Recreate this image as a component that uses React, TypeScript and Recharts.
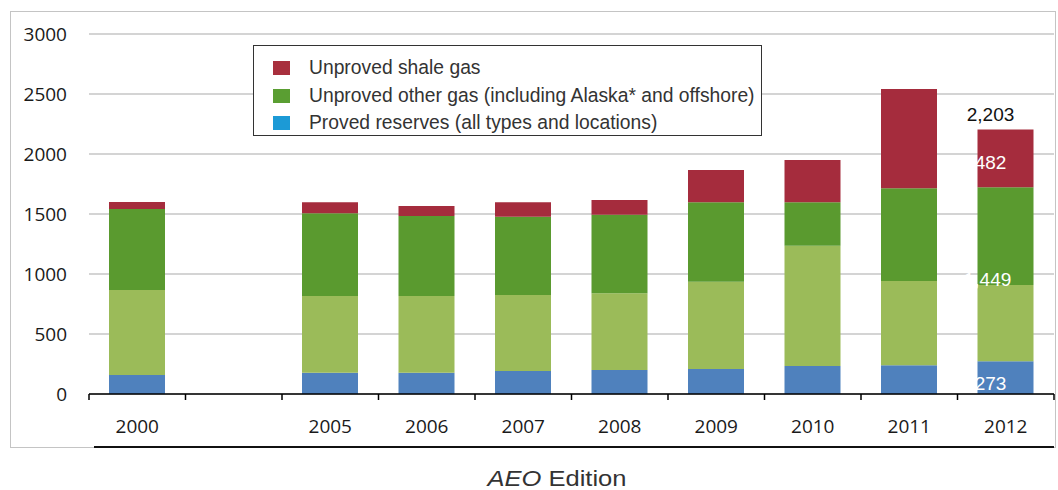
import React from "react";
import { BarChart, Bar, XAxis, YAxis, CartesianGrid, LabelList } from "recharts";

const years = ["2000", "", "2005", "2006", "2007", "2008", "2009", "2010", "2011", "2012"];
const proved = [158, null, 178, 178, 192, 200, 208, 233, 239, 273];
const otherLower = [709, null, 639, 639, 633, 639, 728, 1003, 703, 635];
const otherUpper = [675, null, 689, 666, 653, 655, 661, 361, 772, 814];
const shale = [58, null, 91, 84, 119, 123, 270, 353, 828, 482];
const totalLabels = [null, null, null, null, null, null, null, null, null, 2203];
const yTicks = [0, 500, 1000, 1500, 2000, 2500, 3000];
const labelledYear = "2012";

const legendItems = [
  { label: "Unproved shale gas", color: "#a82f3d" },
  { label: "Unproved other gas (including Alaska* and offshore)", color: "#5a9e32" },
  { label: "Proved reserves (all types and locations)", color: "#1c9ad6" },
];

const data = years.map((year, i) => {
  const show = year === labelledYear;
  return {
    year,
    proved: proved[i],
    otherLower: otherLower[i],
    otherUpper: otherUpper[i],
    shale: shale[i],
    provedLabel: show ? proved[i] : null,
    otherLabel: show ? (otherLower[i] as number) + (otherUpper[i] as number) : null,
    shaleLabel: show ? shale[i] : null,
    totalLabel: show ? totalLabels[i] : null,
  };
});

const tickFont = "'Open Sans', 'DejaVu Sans', sans-serif";
const labelFont = "'Liberation Sans', Arial, sans-serif";
const fmt = (v: number) => Number(v).toLocaleString("en-US");

// recharts 3 hands the bar rect in viewBox, older versions spread it
function barBox(props: any) {
  const vb = props.viewBox && props.viewBox.width != null ? props.viewBox : props;
  return { x: Number(vb.x), y: Number(vb.y), width: Number(vb.width), height: Number(vb.height) };
}

function XTick(props: any) {
  const { x, y, payload, index } = props;
  const off = payload && payload.offset ? payload.offset : 48.25;
  return (
    <g>
      <line x1={x - off} x2={x - off} y1={y} y2={y + 6} stroke="#000" strokeWidth={1.5} />
      {index === years.length - 1 && (
        <line x1={x + off} x2={x + off} y1={y} y2={y + 6} stroke="#000" strokeWidth={1.5} />
      )}
      <text x={x} y={y + 39} textAnchor="middle" fontSize={19} fill="#1a1a1a" fontFamily={tickFont}>
        {payload.value}
      </text>
    </g>
  );
}

function LabelText({ x, y, fill = "#fff", children }: any) {
  return (
    <text
      x={x}
      y={y}
      textAnchor="middle"
      dominantBaseline="central"
      fontSize={19}
      fill={fill}
      fontFamily={labelFont}
    >
      {children}
    </text>
  );
}

// white labels sit a bit left of the bar centre, like the original slide
const provedLabel = (p: any) => {
  if (p.value == null) return null;
  const b = barBox(p);
  return <LabelText x={b.x + b.width / 2 - 15} y={b.y + b.height / 2 + 6}>{fmt(p.value)}</LabelText>;
};

// label for the whole "other gas" block, drawn on the upper green part
const otherLabel = (p: any) => {
  if (p.value == null) return null;
  const b = barBox(p);
  const row = data.find((d) => d.otherLabel === p.value);
  const upper = (row ? row.otherUpper : p.value) as number;
  const lower = (row ? row.otherLower : 0) as number;
  const lowerH = (b.height / upper) * lower;
  return (
    <LabelText x={b.x + b.width / 2 - 18} y={b.y + (b.height + lowerH) / 2 + 5}>
      {fmt(p.value)}
    </LabelText>
  );
};

const shaleLabel = (p: any) => {
  if (p.value == null) return null;
  const b = barBox(p);
  return <LabelText x={b.x + b.width / 2 - 15} y={b.y + b.height / 2 + 4}>{fmt(p.value)}</LabelText>;
};

const totalLabel = (p: any) => {
  if (p.value == null) return null;
  const b = barBox(p);
  return (
    <LabelText x={b.x + b.width / 2 - 15} y={b.y - 15} fill="#111">
      {fmt(p.value)}
    </LabelText>
  );
};

export default function App() {
  return (
    <div
      style={{
        position: "absolute",
        left: 0,
        top: 0,
        width: 1058,
        height: 490,
        background: "#fff",
        overflow: "hidden",
      }}
    >
      {/* frame */}
      <div
        style={{
          position: "absolute",
          left: 10,
          top: 11,
          width: 1046,
          height: 437,
          border: "1.5px solid #c4c4c4",
          boxSizing: "border-box",
        }}
      />
      <BarChart
        width={1058}
        height={490}
        data={data}
        margin={{ top: 34, right: 4, bottom: 56, left: 0 }}
        barSize={56}
        style={{ position: "absolute", left: 0, top: 0 }}
      >
        <CartesianGrid vertical={false} stroke="#c6c6c6" strokeWidth={1.5} />
        <XAxis
          dataKey="year"
          interval={0}
          height={40}
          axisLine={{ stroke: "#000", strokeWidth: 1.5 }}
          tickLine={false}
          tickSize={0}
          tickMargin={0}
          tick={<XTick />}
        />
        <YAxis
          width={89}
          domain={[0, 3000]}
          ticks={yTicks}
          axisLine={false}
          tickLine={false}
          tickSize={0}
          tickMargin={22}
          tick={{ fontSize: 19, fill: "#1a1a1a", fontFamily: tickFont }}
        />
        <Bar dataKey="proved" stackId="a" fill="#4f81bd" isAnimationActive={false}>
          <LabelList dataKey="provedLabel" content={provedLabel} />
        </Bar>
        <Bar dataKey="otherLower" stackId="a" fill="#9bbb59" isAnimationActive={false} />
        <Bar dataKey="otherUpper" stackId="a" fill="#5a9a2f" isAnimationActive={false}>
          <LabelList dataKey="otherLabel" content={otherLabel} />
        </Bar>
        <Bar dataKey="shale" stackId="a" fill="#a52c3d" isAnimationActive={false}>
          <LabelList dataKey="shaleLabel" content={shaleLabel} />
          <LabelList dataKey="totalLabel" content={totalLabel} />
        </Bar>
      </BarChart>

      {/* line under the category labels */}
      <div
        style={{
          position: "absolute",
          left: 94,
          top: 446,
          width: 960,
          height: 2,
          background: "#111",
        }}
      />

      {/* legend */}
      <div
        style={{
          position: "absolute",
          left: 253,
          top: 45,
          width: 509,
          height: 91,
          border: "1.5px solid #333",
          boxSizing: "border-box",
          background: "#fff",
          fontFamily: labelFont,
          fontSize: 19.3,
          color: "#333",
        }}
      >
        {legendItems.map((item, i) => (
          <div
            key={item.label}
            style={{
              position: "absolute",
              left: 19,
              top: 11 + i * 27.5,
              height: 22,
              display: "flex",
              alignItems: "center",
              whiteSpace: "nowrap",
            }}
          >
            <span
              style={{
                display: "inline-block",
                width: 17,
                height: 14,
                background: item.color,
                marginRight: 19,
              }}
            />
            <span>{item.label}</span>
          </div>
        ))}
      </div>

      {/* axis title */}
      <div
        style={{
          position: "absolute",
          left: 0,
          width: 1114,
          top: 466,
          textAlign: "center",
          fontFamily: labelFont,
          fontSize: 22,
          color: "#333",
          lineHeight: "26px",
          transform: "scaleX(1.16)",
          transformOrigin: "557px 0",
        }}
      >
        <i>AEO</i> Edition
      </div>
    </div>
  );
}
